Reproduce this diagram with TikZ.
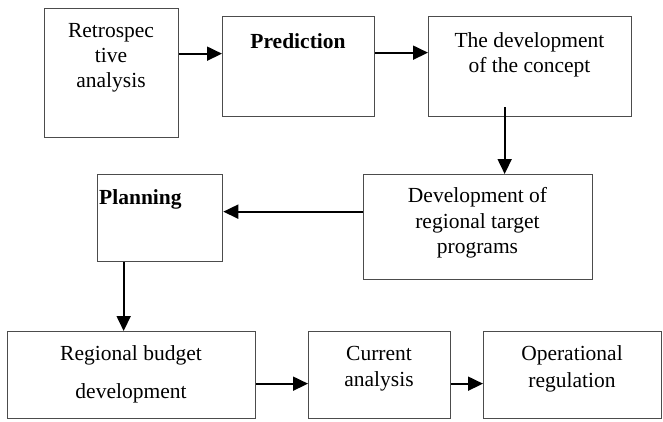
\documentclass[tikz,border=0pt]{standalone}
\usepackage{fontspec}
\setmainfont{Liberation Serif}
\usetikzlibrary{arrows.meta,calc}
\begin{document}
\begin{tikzpicture}[x=1pt,y=-1pt,
  box/.style={draw=black!70, line width=1.3pt, inner sep=0pt, anchor=north west},
  lbl/.style={inner sep=0pt, align=center, text=black},
  arr/.style={line width=1.8pt, draw=black, -{Triangle[length=15pt,width=14pt]}}]
\useasboundingbox (0,0) rectangle (663,421);
% boxes
\node[box, minimum width=134pt, minimum height=129pt] (b1) at (44,8) {};
\node[box, minimum width=152pt, minimum height=100pt] (b2) at (222,16) {};
\node[box, minimum width=203pt, minimum height=100pt] (b3) at (428,16) {};
\node[box, minimum width=229pt, minimum height=105pt] (b4) at (363,174) {};
\node[box, minimum width=125pt, minimum height=87pt] (b5) at (97,174) {};
\node[box, minimum width=248pt, minimum height=87pt] (b6) at (7,331) {};
\node[box, minimum width=142pt, minimum height=87pt] (b7) at (308,331) {};
\node[box, minimum width=178pt, minimum height=87pt] (b8) at (483,331) {};
% texts
\node[lbl, font=\fontsize{21.5}{25}\selectfont] (t1) at (111,58) {Retrospec\\tive\\analysis};
\node[lbl, font=\fontsize{21.5}{25}\selectfont\bfseries] (t2) at (298,41) {Prediction};
\node[lbl, font=\fontsize{21.5}{25}\selectfont] (t3) at (529.5,54.5) {The development\\of the concept};
\node[lbl, font=\fontsize{21.5}{25.5}\selectfont] (t4) at (477.5,223) {Development of\\regional target\\programs};
\node[lbl, font=\fontsize{21.5}{25}\selectfont\bfseries, anchor=west] (t5) at (99,199) {Planning};
\node[lbl, font=\fontsize{21.5}{38}\selectfont] (t6) at (131,374) {Regional budget\\development};
\node[lbl, font=\fontsize{21.5}{26}\selectfont] (t7) at (379,369) {Current\\analysis};
\node[lbl, font=\fontsize{21.5}{27}\selectfont] (t8) at (572,368.5) {Operational\\regulation};
% connectors
\coordinate (p1) at ($(b2.west)+(0,-13)$);
\draw[arr] (b1.east |- p1) -- (p1);
\coordinate (p2) at ($(b3.west)+(0,-14)$);
\draw[arr] (b2.east |- p2) -- (p2);
\coordinate (q3) at ($(b3.south)+(-25.5,-10)$);
\draw[arr] (q3) -- (q3 |- b4.north);
\coordinate (p4) at ($(b5.east)+(0,-6.5)$);
\draw[arr] (b4.west |- p4) -- (p4);
\coordinate (q5) at ($(b5.south)+(-36.5,0)$);
\draw[arr] (q5) -- (q5 |- b6.north);
\coordinate (p6) at ($(b7.west)+(0,8.5)$);
\draw[arr] (b6.east |- p6) -- (p6);
\coordinate (p7) at ($(b8.west)+(0,8.5)$);
\draw[arr] (b7.east |- p7) -- (p7);
\end{tikzpicture}
\end{document}
